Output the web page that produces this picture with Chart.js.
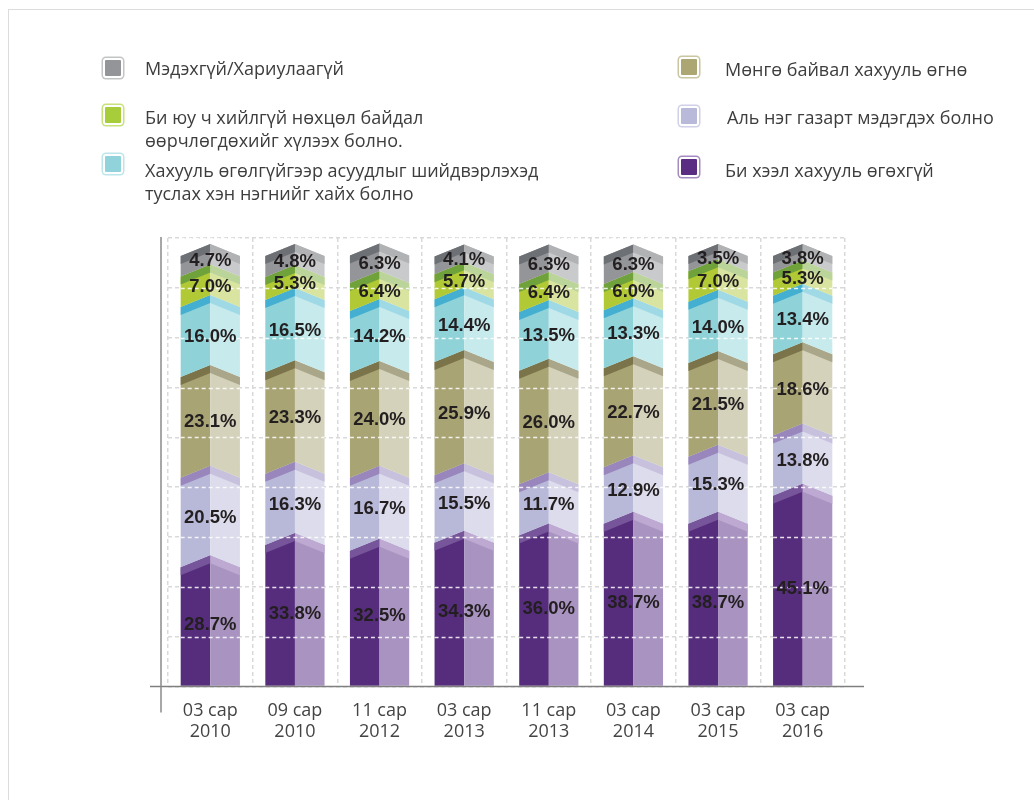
<!DOCTYPE html>
<html>
<head>
<meta charset="utf-8">
<script src="https://cdn.jsdelivr.net/npm/chart.js@4/dist/chart.umd.min.js"></script>
<style>
  html, body { margin: 0; padding: 0; background: #fff; }
  #wrap { position: relative; width: 1034px; height: 800px; overflow: hidden; }
  #frame { position: absolute; left: 8px; top: 9px; right: -2px; bottom: -2px;
           border-top: 1px solid #dcdcdc; border-left: 1px solid #dcdcdc; }
  canvas { position: absolute; left: 0; top: 0; }
  .lg-box { position: absolute; width: 20px; height: 20px; box-sizing: border-box;
            border: 2px solid #fff; border-radius: 3px; }
  .lg-text { position: absolute; font-family: 'Open Sans', 'Noto Sans', sans-serif;
             font-size: 18px; line-height: 23px; color: #3d3d3d; white-space: nowrap; }
</style>
</head>
<body>
<div id="wrap">
  <div id="frame"></div>
  <canvas id="chart" width="1034" height="800"></canvas>
  <div id="legend"></div>
</div>
<script>
// Categories (survey waves)
const categories = [
  ['03 сар', '2010'], ['09 сар', '2010'], ['11 сар', '2012'], ['03 сар', '2013'],
  ['11 сар', '2013'], ['03 сар', '2014'], ['03 сар', '2015'], ['03 сар', '2016']
];

// Series, bottom of the stack first
const seriesNames = [
  'Би хээл хахууль өгөхгүй',
  'Аль нэг газарт мэдэгдэх болно',
  'Мөнгө байвал хахууль өгнө',
  'Хахууль өгөлгүйгээр асуудлыг шийдвэрлэхэд\nтуслах хэн нэгнийг хайх болно',
  'Би юу ч хийлгүй нөхцөл байдал\nөөрчлөгдөхийг хүлээх болно.',
  'Мэдэхгүй/Хариулаагүй'
];
const refuse   = [28.7, 33.8, 32.5, 34.3, 36.0, 38.7, 38.7, 45.1];
const report   = [20.5, 16.3, 16.7, 15.5, 11.7, 12.9, 15.3, 13.8];
const payBribe = [23.1, 23.3, 24.0, 25.9, 26.0, 22.7, 21.5, 18.6];
const seekHelp = [16.0, 16.5, 14.2, 14.4, 13.5, 13.3, 14.0, 13.4];
const waitOut  = [7.0, 5.3, 6.4, 5.7, 6.4, 6.0, 7.0, 5.3];
const noAnswer = [4.7, 4.8, 6.3, 4.1, 6.3, 6.3, 3.5, 3.8];
const seriesValues = [refuse, report, payBribe, seekHelp, waitOut, noAnswer];

// Shades per series: [left face, left top band, right face, right top band, legend, legend ring]
const shades = [
  ['#562d7c', '#77559a', '#a994c1', '#bda9d1', '#5a2d82', '#a58bc2'],
  ['#b8b8d8', '#9886bd', '#dcdcec', '#c8c1de', '#b9b9da', '#d0d0ea'],
  ['#a8a474', '#7b744a', '#d4d2bb', '#aaa68a', '#aba672', '#c9c6a0'],
  ['#8fd3d9', '#45afd1', '#c7eaec', '#a0d9e6', '#90d3da', '#bde6ea'],
  ['#b1c934', '#6fa23a', '#d9e4a0', '#bad49a', '#a8cd3a', '#c7e27a'],
  ['#939598', '#6d7075', '#c9cacc', '#b0b2b4', '#939598', '#c3c4c6']
];

// The stack is drawn to 100 a little below the top grid line
const Y_MAX = 102.75;
const GRID_STEPS = 9;

// HTML legend, two columns as in the report
const legendSlots = [
  { s: 5, x: 103, y: 58,  tx: 145, ty: 56.5 },
  { s: 4, x: 103, y: 105, tx: 145, ty: 105.5 },
  { s: 3, x: 103, y: 154, tx: 145, ty: 158.5 },
  { s: 2, x: 679, y: 57,  tx: 725, ty: 57.5 },
  { s: 1, x: 679, y: 106, tx: 727, ty: 105.5 },
  { s: 0, x: 679, y: 157, tx: 725, ty: 158.5 }
];
const legendEl = document.getElementById('legend');
legendSlots.forEach(function(slot) {
  const box = document.createElement('div');
  box.className = 'lg-box';
  box.style.left = slot.x + 'px';
  box.style.top = slot.y + 'px';
  box.style.background = shades[slot.s][4];
  box.style.boxShadow = '0 0 0 1.5px ' + shades[slot.s][5];
  legendEl.appendChild(box);

  const txt = document.createElement('div');
  txt.className = 'lg-text';
  txt.style.left = slot.tx + 'px';
  txt.style.top = slot.ty + 'px';
  txt.innerHTML = seriesNames[slot.s].split('\n').join('<br>');
  legendEl.appendChild(txt);
});

// Draws each stacked segment as a two-tone column with a chevron top
const chevronBars = {
  id: 'chevronBars',
  afterDatasetsDraw(chart) {
    const ctx = chart.ctx;
    const area = chart.chartArea;
    const rise = 12;   // height of the chevron peak
    const band = 8;    // thickness of the darker top band

    chart.data.datasets.forEach(function(ds, i) {
      const meta = chart.getDatasetMeta(i);
      meta.data.forEach(function(bar) {
        const p = bar.getProps(['x', 'y', 'base', 'width'], true);
        const xl = p.x - p.width / 2, xc = p.x, xr = p.x + p.width / 2;
        const topSide = p.y + rise / 2, topPeak = p.y - rise / 2;
        let botSide = p.base + rise / 2, botPeak = p.base - rise / 2;
        if (i === 0) { botSide = p.base; botPeak = p.base; }
        const c = shades[i];

        ctx.save();
        // left face
        ctx.fillStyle = c[0];
        ctx.beginPath();
        ctx.moveTo(xl, botSide); ctx.lineTo(xl, topSide);
        ctx.lineTo(xc, topPeak); ctx.lineTo(xc, botPeak);
        ctx.closePath(); ctx.fill();
        // right face
        ctx.fillStyle = c[2];
        ctx.beginPath();
        ctx.moveTo(xc, botPeak); ctx.lineTo(xc, topPeak);
        ctx.lineTo(xr, topSide); ctx.lineTo(xr, botSide);
        ctx.closePath(); ctx.fill();
        // top bands
        const t = Math.min(band, Math.max(0, botPeak - topPeak - 2));
        ctx.fillStyle = c[1];
        ctx.beginPath();
        ctx.moveTo(xl, topSide); ctx.lineTo(xc, topPeak);
        ctx.lineTo(xc, topPeak + t); ctx.lineTo(xl, topSide + t);
        ctx.closePath(); ctx.fill();
        ctx.fillStyle = c[3];
        ctx.beginPath();
        ctx.moveTo(xc, topPeak); ctx.lineTo(xr, topSide);
        ctx.lineTo(xr, topSide + t); ctx.lineTo(xc, topPeak + t);
        ctx.closePath(); ctx.fill();
        ctx.restore();
      });
    });

    // white dashes of the grid show over the columns
    const yScale = chart.scales.y;
    const bars0 = chart.getDatasetMeta(0).data;
    ctx.save();
    ctx.strokeStyle = 'rgba(255,255,255,0.85)';
    ctx.lineWidth = 1.5;
    ctx.setLineDash([4, 3]);
    yScale.ticks.forEach(function(tk) {
      const yy = Math.round(yScale.getPixelForValue(tk.value)) + 0.5;
      if (yy >= area.bottom - 1) return;
      bars0.forEach(function(b) {
        ctx.beginPath();
        ctx.moveTo(b.x - b.width / 2, yy);
        ctx.lineTo(b.x + b.width / 2, yy);
        ctx.stroke();
      });
    });
    ctx.restore();

    // value labels
    ctx.save();
    ctx.font = "bold 18.5px 'Liberation Sans', Arial, sans-serif";
    ctx.fillStyle = '#231f20';
    ctx.textAlign = 'center';
    ctx.textBaseline = 'middle';
    chart.data.datasets.forEach(function(ds, i) {
      chart.getDatasetMeta(i).data.forEach(function(bar, j) {
        const p = bar.getProps(['x', 'y', 'base'], true);
        ctx.fillText(ds.data[j].toFixed(1) + '%', p.x, (p.y + p.base) / 2 + 1);
      });
    });
    ctx.restore();
  },
  afterDraw(chart) {
    const ctx = chart.ctx;
    const a = chart.chartArea;
    ctx.save();
    ctx.lineWidth = 1.5;
    ctx.strokeStyle = '#7f7f7f';
    ctx.beginPath();
    ctx.moveTo(a.left - 18, a.bottom); ctx.lineTo(a.right + 19, a.bottom);
    ctx.stroke();
    ctx.strokeStyle = '#8a8a8a';
    ctx.beginPath();
    ctx.moveTo(a.left - 7, a.top - 1); ctx.lineTo(a.left - 7, a.bottom + 26);
    ctx.stroke();
    ctx.restore();
  }
};

const chart = new Chart(document.getElementById('chart').getContext('2d'), {
  type: 'bar',
  data: {
    labels: categories,
    datasets: seriesValues.map(function(vals, i) {
      return {
        label: seriesNames[i],
        data: vals,
        backgroundColor: 'rgba(0,0,0,0)',
        borderWidth: 0,
        categoryPercentage: 1.0,
        barPercentage: 0.7
      };
    })
  },
  options: {
    responsive: false,
    animation: false,
    layout: { padding: { left: 168, right: 189, top: 238, bottom: 44 } },
    plugins: {
      legend: { display: false },
      tooltip: { enabled: false }
    },
    scales: {
      x: {
        stacked: true,
        grid: { color: '#d9d9d9', lineWidth: 1.5, drawTicks: false },
        border: { display: false, dash: [4, 3] },
        ticks: {
          color: '#444',
          padding: 14,
          font: { family: "'Open Sans', 'Noto Sans', sans-serif", size: 18, lineHeight: 1.15 }
        }
      },
      y: {
        stacked: true,
        min: 0,
        max: Y_MAX,
        grid: { color: '#d9d9d9', lineWidth: 1.5, drawTicks: false },
        border: { display: false, dash: [4, 3] },
        ticks: { display: false },
        afterBuildTicks: function(scale) {
          const t = [];
          for (let k = 0; k <= GRID_STEPS; k++) t.push({ value: k * Y_MAX / GRID_STEPS });
          scale.ticks = t;
        }
      }
    }
  },
  plugins: [chevronBars]
});
</script>
</body>
</html>
